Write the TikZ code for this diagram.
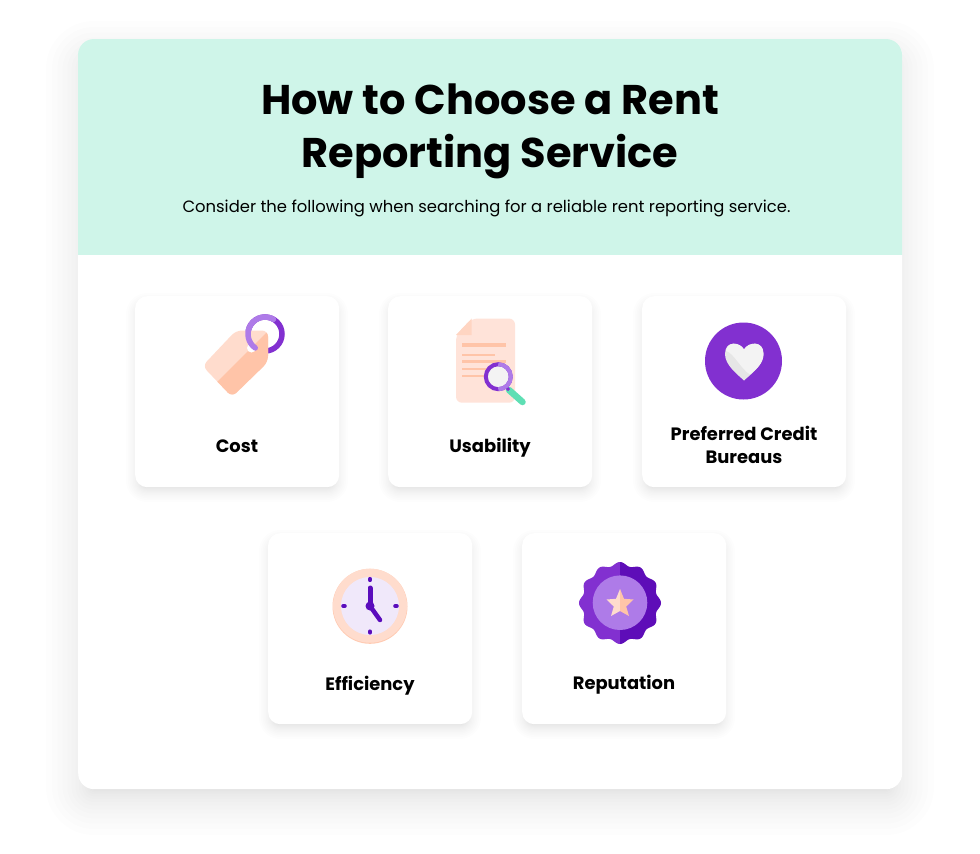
\documentclass[tikz,border=0pt]{standalone}
\usepackage{fontspec}
\setmainfont{Poppins}
\usetikzlibrary{calc}
\definecolor{mint}{HTML}{CFF5E9}
\definecolor{pchdark}{HTML}{FFC4A8}
\definecolor{pchlite}{HTML}{FFDCCD}
\definecolor{pchpage}{HTML}{FFE3D9}
\definecolor{purp}{HTML}{8230D0}
\definecolor{purplite}{HTML}{AE7BE8}
\definecolor{purpdark}{HTML}{5E0DB8}
\definecolor{lilac}{HTML}{F0E8FA}
\definecolor{hand}{HTML}{5A0CBC}
\definecolor{mintdark}{HTML}{5EDFB4}
\definecolor{heartw}{HTML}{F3F3F3}
\definecolor{hearts}{HTML}{E6E6E6}
\tikzset{
  cardbox/.style={fill=white,rounded corners=12pt},
  cardlabel/.style={font=\fontsize{17.9}{23}\selectfont\bfseries,align=center,text=black,inner sep=0pt},
  hline/.style={pchdark,line width=2.6pt},
  clocktick/.style={hand,line width=4.6pt,line cap=round},
}
% #1 x1, #2 y1, #3 x2, #4 y2, #5 min spread, #6 spread range, #7 dy, #8 opacity, #9 base radius
\newcommand{\softshadow}[9]{%
  \foreach \s in {0,...,15}{%
    \pgfmathsetmacro{\e}{#5+#6*(\s/15)*(\s/15)}%
    \pgfmathsetmacro{\r}{max(#9+\e,1)}%
    \fill[black,opacity=#8,rounded corners=\r pt]
      ($(#1,#2+#7)+(-\e,-\e)$) rectangle ($(#3,#4+#7)+(\e,\e)$);
  }}
\newcommand{\card}[3]{% name, x1, y1
  \softshadow{#2}{#3}{#2+204}{#3+191}{-6}{15}{6}{0.006}{12}
  \node[cardbox,minimum width=204pt,minimum height=191pt,inner sep=0pt,anchor=north west] (#1) at (#2,#3) {};
}
\begin{document}
\begin{tikzpicture}[x=1pt,y=-1pt]
\useasboundingbox (0,0) rectangle (980,854);
\fill[white] (0,0) rectangle (980,854);
% main panel
\softshadow{78}{39}{902}{789}{-14}{46}{14}{0.0065}{16}
\node[fill=white,rounded corners=16pt,minimum width=824pt,minimum height=750pt,inner sep=0pt,anchor=north west] (panel) at (78,39) {};
\begin{scope}
\clip (70,30) rectangle (910,254.8);
\fill[mint,rounded corners=16pt] (78,39) rectangle (902,300);
\end{scope}
\node[font=\fontsize{41.5}{53}\selectfont\bfseries,align=center,text=black,inner sep=0pt] (title) at (490,131) {How to Choose a Rent\\Reporting Service};
\node[font=\fontsize{16.4}{22}\selectfont,text=black,inner sep=0pt] (sub) at (486.5,208) {Consider the following when searching for a reliable rent reporting service.};
% cards
\card{c1}{135}{296}
\card{c2}{388}{296}
\card{c3}{642}{296}
\card{c4}{268}{533}
\card{c5}{522}{533}
\node[cardlabel] (l1) at (237,446.5) {Cost};
\node[cardlabel] (l2) at (490,448) {Usability};
\node[cardlabel] (l3) at (744,444.5) {Preferred Credit\\Bureaus};
\node[cardlabel] (l4) at (370,685.5) {Efficiency};
\node[cardlabel] (l5) at (624,685) {Reputation};
% --- tag icon
\draw[purp,line width=5.5pt] (265,334) circle[radius=17];
\path[fill=pchlite,rounded corners=6pt] (236,330.5) -- (268,330.5) -- (268,362) -- (232,397) -- (202.5,366) -- cycle;
\begin{scope}
\clip (267,332) -- (300,332) -- (300,400) -- (200,400) -- (217.5,381.5) -- cycle;
\path[fill=pchdark,rounded corners=6pt] (236,330.5) -- (268,330.5) -- (268,362) -- (232,397) -- (202.5,366) -- cycle;
\end{scope}
\fill[white] (251.5,348) circle[radius=4.5];
\draw[purplite,line width=5.5pt,line cap=round] (265,334) ++(-60:17) arc[start angle=-60,end angle=-235,radius=17];
% --- document icon
\fill[pchpage,rounded corners=6pt] (471.7,318.5) -- (515,318.5) -- (515,402.7) -- (456,402.7) -- (456,335) -- cycle;
\fill[pchlite!70!pchdark] (471.7,318.5) -- (471.7,335) -- (456,335) -- cycle;
\draw[pchdark,line width=3.5pt] (462.3,345) -- (505.7,345);
\draw[hline] (462.3,355) -- (495,355);
\draw[hline] (462.3,361.7) -- (505.7,361.7);
\draw[hline] (462.3,369) -- (495,369);
\draw[hline] (462.3,376) -- (495,376);
\draw[mintdark,line width=6.5pt,line cap=round] (509,390) -- (522.5,402);
\draw[purp,line width=3pt] (505,386) -- (509,390);
\fill[heartw] (498.3,376.7) circle[radius=13];
\draw[purp,line width=4pt] (498.3,376.7) circle[radius=12.5];
\draw[purplite,line width=4pt] (498.3,376.7) ++(-90:12.5) arc[start angle=-90,end angle=90,radius=12.5];
% --- heart icon
\fill[purp] (743.5,361) circle[radius=38.5];
\path[fill=hearts] (744,349.5) .. controls (740,342) and (725,340) .. (725,354) .. controls (725,365) and (737,374) .. (744,380.5) .. controls (751,374) and (763.5,365) .. (763.5,354) .. controls (763.5,340) and (748,342) .. (744,349.5) -- cycle;
\fill[heartw] (744,349.5) .. controls (740,342) and (727,341) .. (726,351) .. controls (733,352) and (741,369) .. (750,374.5) .. controls (755,370) and (763.5,364) .. (763.5,354) .. controls (763.5,340) and (748,342) .. (744,349.5) -- cycle;
% --- clock icon
\fill[pchdark!70!pchlite] (370,606.3) circle[radius=37.5];
\fill[pchlite] (370,605.7) circle[radius=37];
\fill[lilac] (370,606) circle[radius=29];
\draw[clocktick] (370,579.2) -- (370,579.8);
\draw[clocktick] (370,631.7) -- (370,632.3);
\draw[clocktick] (343.5,606) -- (344.5,606);
\draw[clocktick] (395.5,606) -- (396.5,606);
\draw[hand,line width=5pt,line cap=round] (370,606) -- (370,588);
\draw[hand,line width=4.5pt,line cap=round] (370,606) -- (380,620);
\fill[hand] (370,606) circle[radius=4.5];
% --- badge icon
\begin{scope}
\clip (560,550) rectangle (620,660);
\fill[purp] plot[domain=0:360,samples=241,smooth,variable=\t] ({620+(39.2+1.8*cos(12*\t))*cos(\t)},{603+(39.2+1.8*cos(12*\t))*sin(\t)}) -- cycle;
\end{scope}
\begin{scope}
\clip (620,550) rectangle (680,660);
\fill[purpdark] plot[domain=0:360,samples=241,smooth,variable=\t] ({620+(39.2+1.8*cos(12*\t))*cos(\t)},{603+(39.2+1.8*cos(12*\t))*sin(\t)}) -- cycle;
\end{scope}
\fill[purplite] (620,602.7) circle[radius=27.3];
\newcommand{\starpath}{(620,589) -- (624,598.8) -- (633.5,599.5) -- (626.2,606.5) -- (629,616) -- (620,611) -- (611,616) -- (613.8,606.5) -- (606.5,599.5) -- (616,598.8) -- cycle}
\begin{scope}
\clip (600,580) rectangle (620,625);
\fill[pchlite] \starpath;
\end{scope}
\begin{scope}
\clip (620,580) rectangle (640,625);
\fill[pchdark] \starpath;
\end{scope}
\end{tikzpicture}
\end{document}
